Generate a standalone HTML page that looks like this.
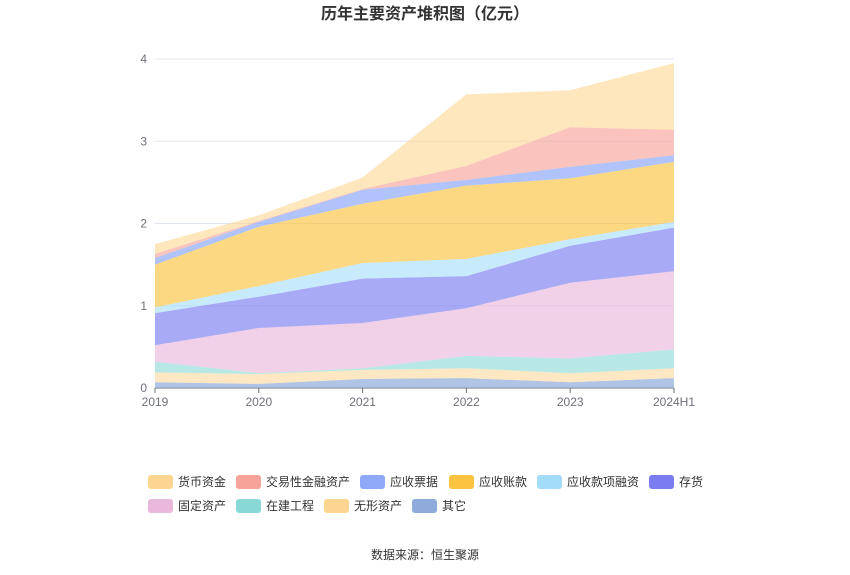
<!DOCTYPE html>
<html><head><meta charset="utf-8">
<style>
body{margin:0;background:#fff;font-family:"Liberation Sans","Noto Sans CJK SC",sans-serif;}
#wrap{position:relative;width:850px;height:575px;overflow:hidden;}
</style></head>
<body><div id="wrap">
<svg id="chart" width="850" height="575"></svg>
</div>
<script>
const categories=["2019","2020","2021","2022","2023","2024H1"];
const seriesNames=["其它","无形资产","在建工程","固定资产","存货","应收款项融资","应收账款","应收票据","交易性金融资产","货币资金"];
const sOther=[0.07,0.05,0.11,0.12,0.07,0.12];
const sIntangible=[0.12,0.12,0.11,0.12,0.11,0.12];
const sConstruction=[0.13,0.01,0.02,0.15,0.18,0.23];
const sFixed=[0.20,0.55,0.55,0.58,0.92,0.95];
const sInventory=[0.39,0.38,0.54,0.39,0.45,0.53];
const sRecvFin=[0.07,0.13,0.19,0.21,0.08,0.07];
const sAccRecv=[0.52,0.72,0.72,0.89,0.74,0.73];
const sNotes=[0.08,0.06,0.17,0.07,0.14,0.08];
const sTrading=[0.05,0.01,0.01,0.17,0.48,0.31];
const sCash=[0.12,0.07,0.14,0.87,0.45,0.81];
const yTicks=[0,1,2,3,4];
const series=[sOther,sIntangible,sConstruction,sFixed,sInventory,sRecvFin,sAccRecv,sNotes,sTrading,sCash];
const colors=["#8eabdc","#fdd591","#88d8d6","#eab8dc","#7b7cf0","#a3dcfb","#fbc33f","#8fa9f8","#f8a39a","#fdd591"];
const areaOp=[0.7,0.55,0.6,0.65,0.65,0.6,0.65,0.7,0.65,0.6];
const X0=155,X1=674,Y0=388,YT=59,YMAX=4;
const x=i=>X0+(X1-X0)*i/(categories.length-1);
const y=v=>Y0-(Y0-YT)*v/YMAX;
const NS="http://www.w3.org/2000/svg";
const svg=document.getElementById('chart');
function mk(t,a,p){const e=document.createElementNS(NS,t);for(const k in a)e.setAttribute(k,a[k]);(p||svg).appendChild(e);return e;}
const title=mk('text',{x:425,y:19,'text-anchor':'middle','font-size':16,'font-weight':'bold',fill:'#333'});
title.textContent="历年主要资产堆积图（亿元）";


yTicks.forEach(t=>{
  const g=mk('line',{x1:X0,x2:X1,y1:y(t),y2:y(t),stroke:t===0?'#6e7079':'#e0e6f1','stroke-width':1});
  
  
  const l=mk('text',{x:147,y:y(t)+4,'text-anchor':'end','font-size':12,fill:'#6e7079'});
  l.textContent=t;
  
  
});
let base=categories.map(()=>0);
series.forEach((s,k)=>{
  const top=base.map((b,i)=>b+s[i]);
  let d='M'+top.map((v,i)=>x(i)+','+y(v)).join('L');
  for(let i=categories.length-1;i>=0;i--)d+='L'+x(i)+','+y(base[i]);
  d+='Z';
  const p=mk('path',{d:d,fill:colors[k],'fill-opacity':areaOp[k],stroke:'none'});
  
  
  base=top;
});
categories.forEach((c,i)=>{
  const tk=mk('line',{x1:x(i),x2:x(i),y1:Y0,y2:Y0+5,stroke:'#6e7079'});
  
  
  const l=mk('text',{x:x(i),y:Y0+18,'text-anchor':'middle','font-size':12,fill:'#6e7079'});
  l.textContent=c;
  
  
});
const legendOrder=[9,8,7,6,5,4,3,2,1,0];
const legendLabels=["货币资金","交易性金融资产","应收票据","应收账款","应收款项融资","存货","固定资产","在建工程","无形资产","其它"];
const legPos=[[148,482],[236,482],[360,482],[449,482],[537,482],[649,482],[148,506],[236,506],[324,506],[412,506]];
legendOrder.forEach((k,j)=>{
  const [lx,ly]=legPos[j];
  const g=mk('g',{});
  
  
  mk('rect',{x:lx,y:ly-7,width:25,height:14,rx:3,fill:colors[k]},g);
  const t=mk('text',{x:lx+30,y:ly+4,'font-size':12,fill:'#333'},g);
  t.textContent=legendLabels[j];
});
const src=mk('text',{x:425,y:559,'text-anchor':'middle','font-size':12,fill:'#333'});
src.textContent="数据来源：恒生聚源";


</script>
</body></html>
